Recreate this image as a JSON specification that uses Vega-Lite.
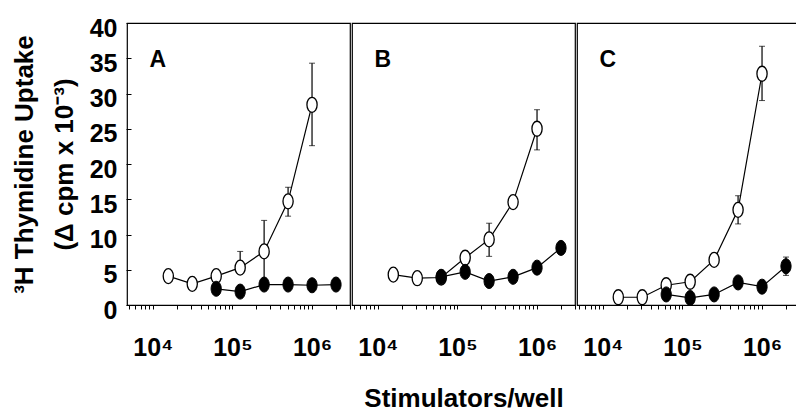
{
  "$schema": "https://vega.github.io/schema/vega-lite/v6.json",
  "padding": {"left": 11, "top": 16, "right": 0, "bottom": 0},
  "background": "white",
  "data": {"values": [
    {"panel": "A", "series": "open", "x": 15625, "y": 4.1},
    {"panel": "A", "series": "open", "x": 31250, "y": 3.0},
    {"panel": "A", "series": "open", "x": 62500, "y": 4.1},
    {"panel": "A", "series": "open", "x": 125000, "y": 5.3, "lo": 5.3, "hi": 7.6},
    {"panel": "A", "series": "open", "x": 250000, "y": 7.6, "lo": 3.3, "hi": 12.0},
    {"panel": "A", "series": "open", "x": 500000, "y": 14.7, "lo": 12.6, "hi": 16.7},
    {"panel": "A", "series": "open", "x": 1000000, "y": 28.4, "lo": 22.6, "hi": 34.3},
    {"panel": "A", "series": "filled", "x": 62500, "y": 2.3},
    {"panel": "A", "series": "filled", "x": 125000, "y": 1.9},
    {"panel": "A", "series": "filled", "x": 250000, "y": 2.9},
    {"panel": "A", "series": "filled", "x": 500000, "y": 2.9},
    {"panel": "A", "series": "filled", "x": 1000000, "y": 2.8},
    {"panel": "A", "series": "filled", "x": 2000000, "y": 2.9},
    {"panel": "B", "series": "open", "x": 15625, "y": 4.3},
    {"panel": "B", "series": "open", "x": 31250, "y": 3.8},
    {"panel": "B", "series": "open", "x": 62500, "y": 3.9},
    {"panel": "B", "series": "open", "x": 125000, "y": 6.7},
    {"panel": "B", "series": "open", "x": 250000, "y": 9.3, "lo": 6.9, "hi": 11.6},
    {"panel": "B", "series": "open", "x": 500000, "y": 14.6},
    {"panel": "B", "series": "open", "x": 1000000, "y": 25.0, "lo": 22.0, "hi": 27.7},
    {"panel": "B", "series": "filled", "x": 62500, "y": 4.0},
    {"panel": "B", "series": "filled", "x": 125000, "y": 4.7},
    {"panel": "B", "series": "filled", "x": 250000, "y": 3.4},
    {"panel": "B", "series": "filled", "x": 500000, "y": 4.0},
    {"panel": "B", "series": "filled", "x": 1000000, "y": 5.3},
    {"panel": "B", "series": "filled", "x": 2000000, "y": 8.1},
    {"panel": "C", "series": "open", "x": 15625, "y": 1.1},
    {"panel": "C", "series": "open", "x": 31250, "y": 1.1},
    {"panel": "C", "series": "open", "x": 62500, "y": 2.8},
    {"panel": "C", "series": "open", "x": 125000, "y": 3.3},
    {"panel": "C", "series": "open", "x": 250000, "y": 6.4},
    {"panel": "C", "series": "open", "x": 500000, "y": 13.5, "lo": 11.5, "hi": 15.5},
    {"panel": "C", "series": "open", "x": 1000000, "y": 32.8, "lo": 29.0, "hi": 36.7},
    {"panel": "C", "series": "filled", "x": 62500, "y": 1.5},
    {"panel": "C", "series": "filled", "x": 125000, "y": 1.0},
    {"panel": "C", "series": "filled", "x": 250000, "y": 1.5},
    {"panel": "C", "series": "filled", "x": 500000, "y": 3.2},
    {"panel": "C", "series": "filled", "x": 1000000, "y": 2.6},
    {"panel": "C", "series": "filled", "x": 2000000, "y": 5.5, "lo": 4.2, "hi": 6.8}
  ]},
  "facet": {
    "column": {
      "field": "panel", "type": "nominal", "title": "Stimulators/well",
      "header": {
        "labels": false, "titleOrient": "bottom", "labelOrient": "bottom",
        "titleFont": "Liberation Sans", "titleFontWeight": "bold", "titleFontSize": 26,
        "titleColor": "black", "titlePadding": 16
      }
    }
  },
  "spacing": 0,
  "spec": {
    "width": 223,
    "height": 282,
    "encoding": {
      "x": {
        "field": "x", "type": "quantitative",
        "scale": {"type": "log", "domain": [4730, 3000000], "nice": false},
        "axis": {
          "title": null,
          "values": [5000, 6000, 7000, 8000, 9000, 10000, 20000, 30000, 40000, 50000, 60000, 70000, 80000, 90000, 100000, 200000, 300000, 400000, 500000, 600000, 700000, 800000, 900000, 1000000, 2000000, 3000000],
          "labelExpr": "datum.value == 10000 ? '10⁴' : datum.value == 100000 ? '10⁵' : datum.value == 1000000 ? '10⁶' : ''",
          "tickSize": -4, "tickColor": "black", "tickWidth": 1,
          "labelPadding": 30, "labelFont": "Liberation Sans", "labelFontWeight": "bold",
          "labelFontSize": 25, "labelColor": "black", "labelOverlap": false, "labelFlush": false
        }
      },
      "y": {
        "field": "y", "type": "quantitative",
        "scale": {"domain": [0, 40], "nice": false},
        "axis": {
          "title": ["³H Thymidine Uptake", "(Δ cpm x 10⁻³)"],
          "values": [0, 5, 10, 15, 20, 25, 30, 35, 40],
          "tickSize": -5, "tickColor": "black",
          "labelFont": "Liberation Sans", "labelFontWeight": "bold", "labelFontSize": 25,
          "labelColor": "black", "labelPadding": 14, "labelOffset": 5,
          "titleFont": "Liberation Sans", "titleFontWeight": "bold", "titleFontSize": 26,
          "titleColor": "black", "titlePadding": 12, "titleLineHeight": 40
        }
      }
    },
    "layer": [
      {
        "transform": [{"filter": "datum.series == 'open'"}],
        "mark": {"type": "line", "color": "black", "strokeWidth": 1.2}
      },
      {
        "transform": [{"filter": "datum.series == 'filled'"}],
        "mark": {"type": "line", "color": "black", "strokeWidth": 1.2}
      },
      {
        "transform": [{"filter": "isValid(datum.lo)"}],
        "mark": {"type": "errorbar", "color": "black", "ticks": {"size": 6, "color": "black"}, "rule": {"strokeWidth": 1.2}},
        "encoding": {
          "y": {"field": "lo", "type": "quantitative", "title": ["³H Thymidine Uptake", "(Δ cpm x 10⁻³)"]},
          "y2": {"field": "hi"}
        }
      },
      {
        "transform": [{"filter": "datum.series == 'open'"}],
        "mark": {"type": "point", "shape": "M0,-1A0.68,1 0 1,1 0,1A0.68,1 0 1,1 0,-1Z", "size": 225, "filled": true, "fill": "white", "stroke": "black", "strokeWidth": 1.3, "opacity": 1}
      },
      {
        "transform": [{"filter": "datum.series == 'filled'"}],
        "mark": {"type": "point", "shape": "M0,-1A0.68,1 0 1,1 0,1A0.68,1 0 1,1 0,-1Z", "size": 225, "filled": true, "fill": "black", "stroke": "black", "strokeWidth": 1, "opacity": 1}
      },
      {
        "transform": [{"filter": "datum.series == 'open' && datum.x == 15625"}],
        "mark": {"type": "text", "font": "Liberation Sans", "fontWeight": "bold", "fontSize": 23, "color": "black", "baseline": "middle", "align": "center"},
        "encoding": {
          "x": {"datum": 11500, "type": "quantitative"},
          "y": {"datum": 34.8, "type": "quantitative"},
          "text": {"field": "panel"}
        }
      }
    ]
  },
  "config": {
    "view": {"stroke": "black", "strokeWidth": 1.2},
    "axis": {"grid": false, "domain": false}
  }
}
